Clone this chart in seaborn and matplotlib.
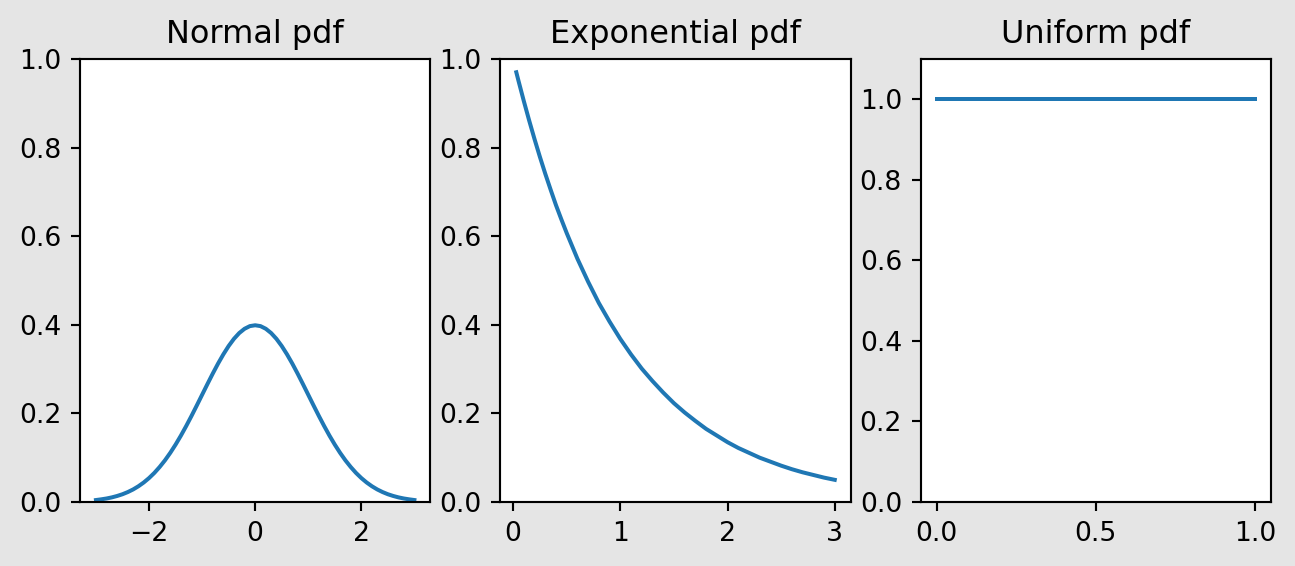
import matplotlib
matplotlib.use("Agg")
import matplotlib.pyplot as plt
import seaborn as sns
import pandas as pd

# Normal pdf
normal_x = [-3.0, -2.9, -2.8, -2.7, -2.6, -2.5, -2.4, -2.3, -2.2, -2.1, -2.0, -1.9, -1.8, -1.7, -1.6,
            -1.5, -1.4, -1.3, -1.2, -1.1, -1.0, -0.9, -0.8, -0.7, -0.6, -0.5, -0.4, -0.3, -0.2, -0.1,
            0.0, 0.1, 0.2, 0.3, 0.4, 0.5, 0.6, 0.7, 0.8, 0.9, 1.0, 1.1, 1.2, 1.3, 1.4, 1.5, 1.6, 1.7,
            1.8, 1.9, 2.0, 2.1, 2.2, 2.3, 2.4, 2.5, 2.6, 2.7, 2.8, 2.9, 3.0]
normal_y = [0.0044, 0.0060, 0.0079, 0.0104, 0.0136, 0.0175, 0.0224, 0.0283, 0.0355, 0.0440, 0.0540,
            0.0656, 0.0790, 0.0940, 0.1109, 0.1295, 0.1497, 0.1714, 0.1942, 0.2179, 0.2420, 0.2661,
            0.2897, 0.3123, 0.3332, 0.3521, 0.3683, 0.3814, 0.3910, 0.3970, 0.3989, 0.3970, 0.3910,
            0.3814, 0.3683, 0.3521, 0.3332, 0.3123, 0.2897, 0.2661, 0.2420, 0.2179, 0.1942, 0.1714,
            0.1497, 0.1295, 0.1109, 0.0940, 0.0790, 0.0656, 0.0540, 0.0440, 0.0355, 0.0283, 0.0224,
            0.0175, 0.0136, 0.0104, 0.0079, 0.0060, 0.0044]

# Exponential pdf
exp_x = [0.03, 0.05, 0.1, 0.15, 0.2, 0.25, 0.3, 0.35, 0.4, 0.45, 0.5, 0.6, 0.7, 0.8, 0.9, 1.0, 1.1,
         1.2, 1.3, 1.4, 1.5, 1.6, 1.7, 1.8, 1.9, 2.0, 2.1, 2.2, 2.3, 2.4, 2.5, 2.6, 2.7, 2.8, 2.9, 3.0]
exp_y = [0.970, 0.951, 0.905, 0.861, 0.819, 0.779, 0.741, 0.705, 0.670, 0.638, 0.607, 0.549, 0.497,
         0.449, 0.407, 0.368, 0.333, 0.301, 0.273, 0.247, 0.223, 0.202, 0.183, 0.165, 0.150, 0.135,
         0.122, 0.111, 0.100, 0.091, 0.082, 0.074, 0.067, 0.061, 0.055, 0.050]

# Uniform pdf
unif_x = [0.0, 1.0]
unif_y = [1.0, 1.0]

titles = ["Normal pdf", "Exponential pdf", "Uniform pdf"]
ylims = [(0, 1), (0, 1), (0, 1.1)]

DPI = 192
fig, axes = plt.subplots(1, 3, figsize=(1295 / DPI, 566 / DPI), dpi=DPI)
fig.patch.set_facecolor("#e5e5e5")

data = [(normal_x, normal_y), (exp_x, exp_y), (unif_x, unif_y)]
for ax, (xs, ys), t, yl in zip(axes, data, titles, ylims):
    df = pd.DataFrame({"x": xs, "y": ys})
    sns.lineplot(data=df, x="x", y="y", ax=ax, color="#1f77b4", linewidth=1.5)
    ax.set_title(t)
    ax.set_ylim(*yl)
    ax.set_xlabel("")
    ax.set_ylabel("")
    ax.set_facecolor("white")

fig.subplots_adjust(left=0.0618, right=0.9815, top=0.8958, bottom=0.1131, wspace=0.2)
fig.savefig("out.png", dpi=DPI, facecolor=fig.get_facecolor())
